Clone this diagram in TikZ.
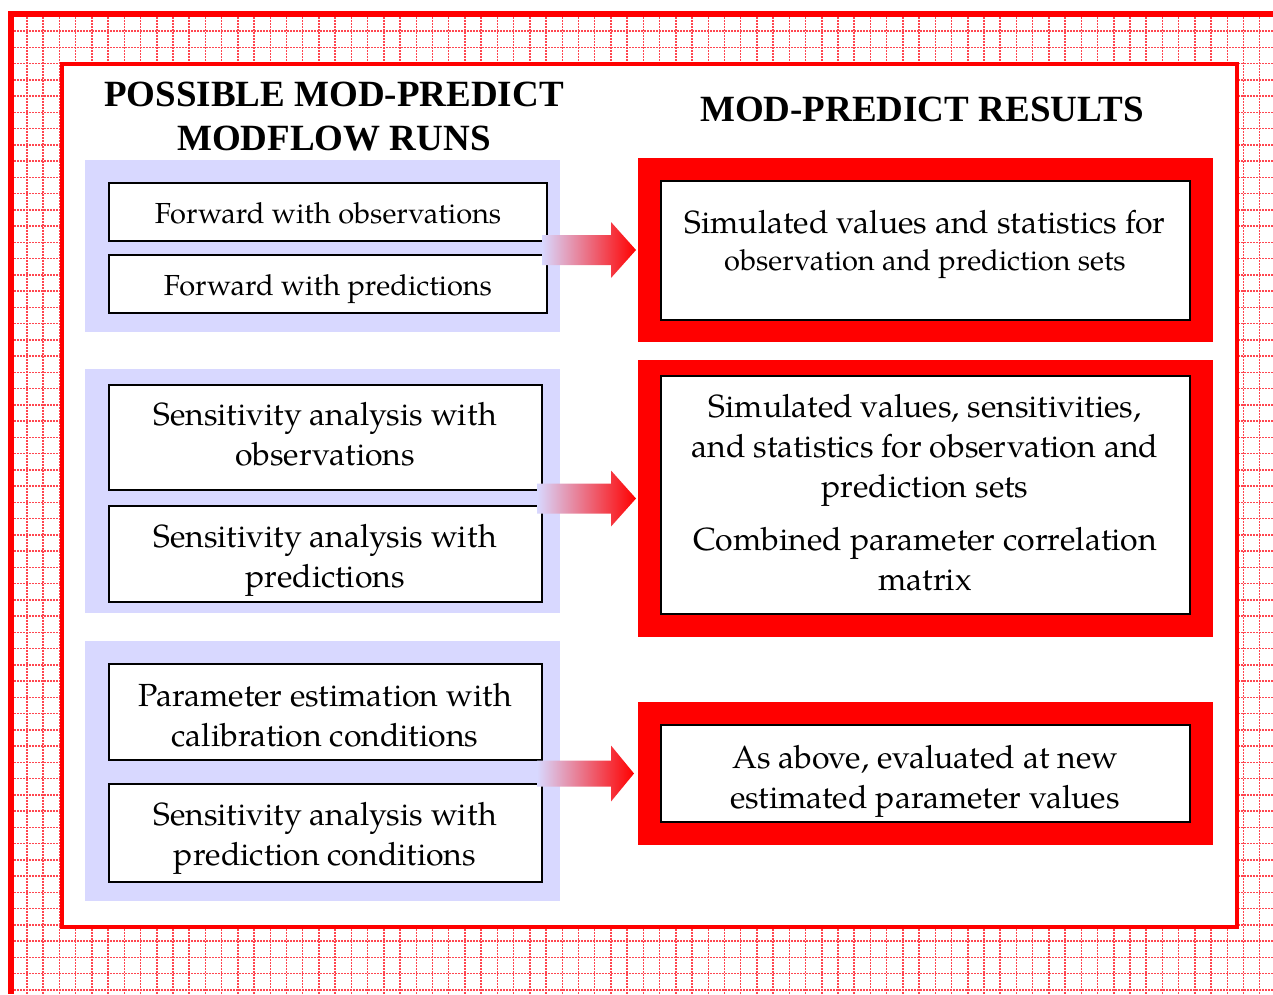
\documentclass[tikz,border=0pt]{standalone}
\usepackage{fontspec}
\setmainfont{Liberation Serif}
\newfontfamily\bookfont{texgyrepagella-regular.otf}
\usetikzlibrary{calc}
\definecolor{lav}{RGB}{216,216,255}
\definecolor{pred}{RGB}{255,0,0}
\definecolor{gridred}{RGB}{255,70,80}
\tikzset{
  gridline/.style={gridred, line width=1.5pt, dash pattern=on 2pt off 1pt},
  lpanel/.style={fill=lav, draw=none, inner sep=0pt, outer sep=0pt},
  rpanel/.style={fill=pred, draw=none, inner sep=0pt, outer sep=0pt},
  wbox/.style={fill=white, draw=black, line width=2pt, inner sep=0pt, outer sep=0pt},
  head/.style={font=\fontsize{37}{44}\selectfont\bfseries, align=center, inner sep=0pt},
  btxt/.style={font=\bookfont\fontsize{32}{40}\selectfont, align=center, inner sep=0pt},
  stxt/.style={font=\bookfont\fontsize{29}{36}\selectfont, align=center, inner sep=0pt},
  blockarrow/.style={left color=lav, right color=pred, draw=none},
}
\begin{document}
\begin{tikzpicture}[x=1pt,y=-1pt]
\useasboundingbox (0,0) rectangle (1273,994);
\fill[white] (0,0) rectangle (1273,994);
% grid background
\foreach \k in {0,...,76} \draw[gridline] ({27+16.22*\k},17) -- ({27+16.22*\k},994);
\foreach \k in {0,...,59} \draw[gridline] (14,{31+16.25*\k}) -- (1273,{31+16.25*\k});
\fill[pred] (8,11) rectangle (14,994);
\fill[pred] (8,11) rectangle (1273,17);
% inner frame
\node[fill=white, draw=pred, line width=4pt, inner sep=0pt, minimum width=1175, minimum height=863] (frame) at (649.5,495.5) {};
% headings
\node[head] (h1) at (334,117) {POSSIBLE MOD-PREDICT\\MODFLOW RUNS};
\node[head] (h2) at (922,109) {MOD-PREDICT RESULTS};
% left panels
\node[lpanel, minimum width=475, minimum height=172] (lp1) at (322.5,246) {};
\node[lpanel, minimum width=475, minimum height=244] (lp2) at (322.5,491) {};
\node[lpanel, minimum width=475, minimum height=260] (lp3) at (322.5,771) {};
% right panels
\node[rpanel, minimum width=575, minimum height=184] (rp1) at (925.5,250) {};
\node[rpanel, minimum width=575, minimum height=277] (rp2) at (925.5,498.5) {};
\node[rpanel, minimum width=575, minimum height=143] (rp3) at (925.5,773.5) {};
% left boxes
\node[wbox, minimum width=438, minimum height=58] (b1) at (328,212) {};
\node[wbox, minimum width=438, minimum height=58] (b2) at (328,284) {};
\node[wbox, minimum width=433, minimum height=105] (b3) at (325.5,437.5) {};
\node[wbox, minimum width=433, minimum height=96] (b4) at (325.5,554) {};
\node[wbox, minimum width=433, minimum height=96] (b5) at (325.5,712) {};
\node[wbox, minimum width=433, minimum height=98] (b6) at (325.5,833) {};
% right boxes
\node[wbox, minimum width=529, minimum height=139] (r1) at (925.5,250.5) {};
\node[wbox, minimum width=529, minimum height=238] (r2) at (925.5,495) {};
\node[wbox, minimum width=529, minimum height=97] (r3) at (925.5,773.5) {};
% texts
\node[stxt] (t1) at (328,213) {Forward with observations};
\node[stxt] (t2) at (328,289) {Forward with predictions};
\node[btxt] (t3) at (325,434) {Sensitivity analysis with\\observations};
\node[btxt] (t4) at (325,560) {Sensitivity analysis with\\predictions};
\node[btxt] (t5) at (325,715) {Parameter estimation with\\calibration conditions};
\node[btxt] (t6) at (325,838) {Sensitivity analysis with\\prediction conditions};
\node[btxt] (t7) at (925,244) {Simulated values and statistics for\\[-3pt]{\fontsize{29}{36}\selectfont observation and prediction sets}};
\node[btxt] (t8) at (925,493) {Simulated values, sensitivities,\\and statistics for observation and\\prediction sets\\[13pt]Combined parameter correlation\\matrix};
\node[btxt] (t9) at (925,781) {As above, evaluated at new\\estimated parameter values};
% arrows
\path[blockarrow] let \p1=(b1.east), \p2=(rp1.west) in
  (\x1-5pt,\y2+15pt) -- (\x2-27pt,\y2+15pt) -- (\x2-27pt,\y2+28pt) -- (\x2-2pt,\y2) --
  (\x2-27pt,\y2-28pt) -- (\x2-27pt,\y2-15pt) -- (\x1-5pt,\y2-15pt) -- cycle;
\path[blockarrow] let \p1=(b3.east), \p2=(rp2.west) in
  (\x1-5pt,\y2+15pt) -- (\x2-27pt,\y2+15pt) -- (\x2-27pt,\y2+28pt) -- (\x2-2pt,\y2) --
  (\x2-27pt,\y2-28pt) -- (\x2-27pt,\y2-15pt) -- (\x1-5pt,\y2-15pt) -- cycle;
\path[blockarrow] let \p1=(b5.east), \p2=(rp3.west) in
  (\x1-5pt,\y2+13pt) -- (\x2-27pt,\y2+13pt) -- (\x2-27pt,\y2+28pt) -- (\x2-4pt,\y2) --
  (\x2-27pt,\y2-28pt) -- (\x2-27pt,\y2-13pt) -- (\x1-5pt,\y2-13pt) -- cycle;
\end{tikzpicture}
\end{document}
